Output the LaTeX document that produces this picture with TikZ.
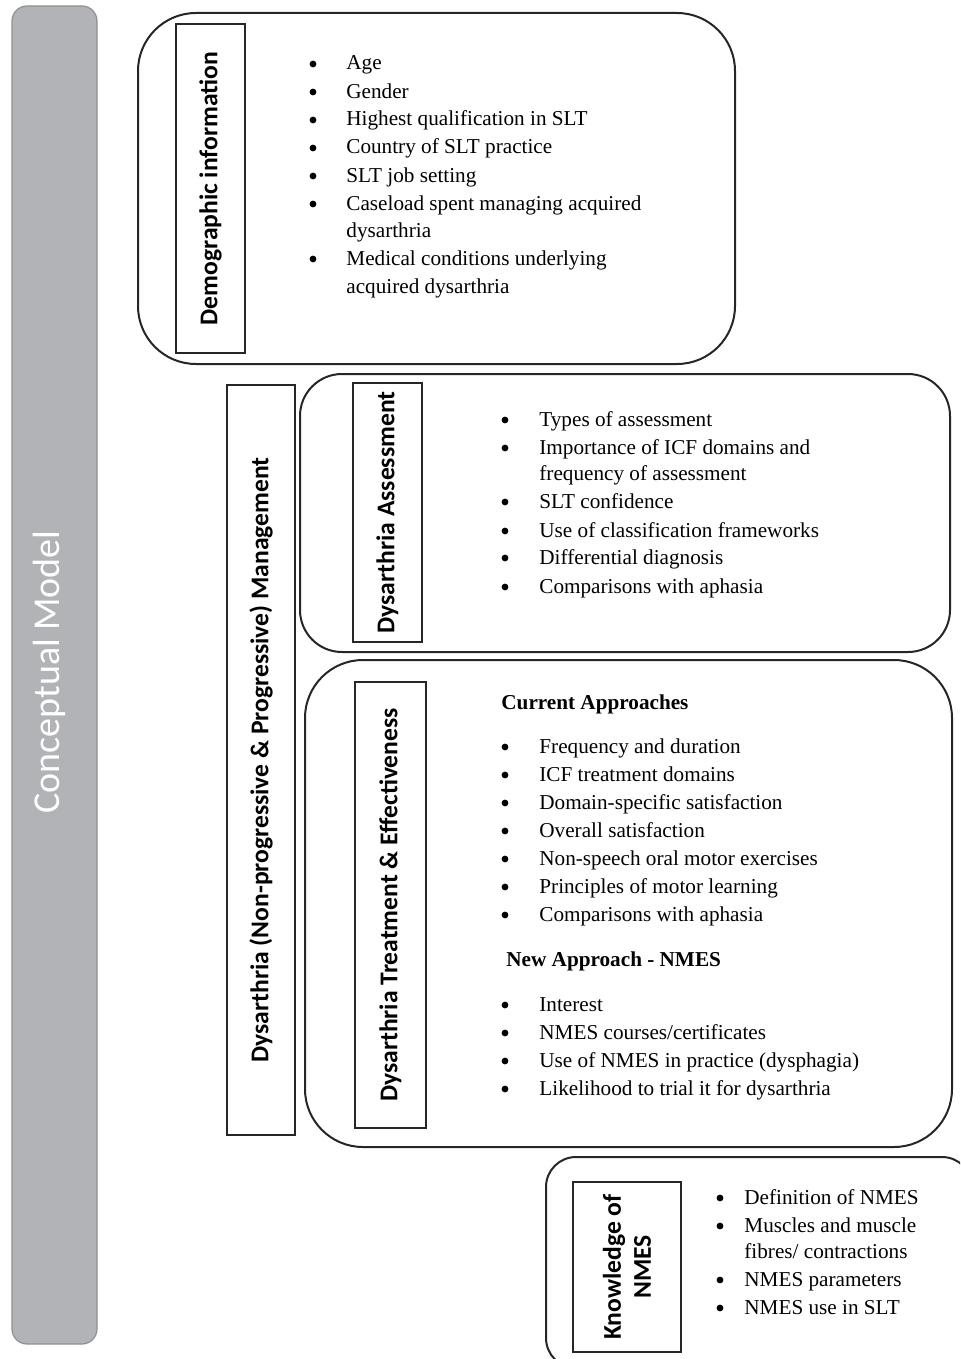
\documentclass[tikz,border=0pt]{standalone}
\usepackage{fontspec}
\setmainfont{Liberation Serif}
\setsansfont{Carlito}
\definecolor{barfill}{HTML}{B2B3B7}
\definecolor{barline}{HTML}{8F9094}
\tikzset{
panel/.style={draw=black!85,line width=1pt},
tagbox/.style={draw=black!85,line width=0.8pt,rotate=90,inner sep=0pt,align=center,
font=\sffamily\bfseries\fontsize{12.8}{15}\selectfont},
itm/.style={anchor=base west,inner sep=0pt,font=\fontsize{10.6}{13}\selectfont},
dot/.style={circle,fill=black,inner sep=0pt,minimum size=3.4pt,yshift=3pt},
head/.style={anchor=base west,inner sep=0pt,font=\bfseries\fontsize{10.6}{13}\selectfont}
}
\begin{document}
\begin{tikzpicture}[x=0.5pt,y=-0.5pt]
\useasboundingbox (0,0) rectangle (960,1359);
\begin{scope}
\clip (0,0) rectangle (960,1359);
% side bar
\draw[fill=barfill,draw=barline,line width=0.6pt,rounded corners=7.5pt] (12,6) rectangle (97,1344);
\node[rotate=90,text=white,inner sep=0pt,font=\sffamily\fontsize{19}{22}\selectfont] (model) at (49,672) {Conceptual Model};
% panels
\draw[panel,rounded corners=29pt] (138,13) rectangle (735,364);
\draw[panel,rounded corners=21pt] (300,374) rectangle (950,652);
\draw[panel,rounded corners=29pt] (305,660) rectangle (952,1147);
\draw[panel,rounded corners=15pt] (546,1157) rectangle (972,1368);
% tags
\node[tagbox,minimum width=164.5pt,minimum height=34.5pt] (demo) at (210.5,188.5) {Demographic information};
\node[tagbox,minimum width=375pt,minimum height=34pt] (mgmt) at (261,760) {Dysarthria (Non-progressive \& Progressive) Management};
\node[tagbox,minimum width=129.5pt,minimum height=34.5pt] (assess) at (387.5,512.5) {Dysarthria Assessment};
\node[tagbox,minimum width=223pt,minimum height=35.5pt] (treat) at (390.5,905) {Dysarthria Treatment \& Effectiveness};
\node[tagbox,minimum width=85pt,minimum height=54pt] (know) at (627,1267) {Knowledge of\\NMES};
\end{scope}
% demographic items
\foreach \y/\t [count=\i] in {70/Age,98/Gender,126/Highest qualification in SLT,154/Country of SLT practice,
182/SLT job setting,210/Caseload spent managing acquired,265/Medical conditions underlying}
{\node[dot] (demob\i) at (313,\y) {}; \node[itm] (demot\i) at (346,\y) {\t};}
\node[itm] (democ1) at (346,237) {dysarthria};
\node[itm] (democ2) at (346,293) {acquired dysarthria};
% assessment items
\foreach \y/\t [count=\i] in {426/Types of assessment,454/Importance of ICF domains and,508/SLT confidence,
537/Use of classification frameworks,564/Differential diagnosis,593/Comparisons with aphasia}
{\node[dot] (assb\i) at (505,\y) {}; \node[itm] (asst\i) at (539,\y) {\t};}
\node[itm] (assc1) at (539,480) {frequency of assessment};
% treatment items
\node[head] (curr) at (501,709) {Current Approaches};
\foreach \y/\t [count=\i] in {753/Frequency and duration,781/ICF treatment domains,809/Domain-specific satisfaction,
837/Overall satisfaction,865/Non-speech oral motor exercises,893/Principles of motor learning,921/Comparisons with aphasia}
{\node[dot] (curb\i) at (505,\y) {}; \node[itm] (curt\i) at (539,\y) {\t};}
\node[head] (new) at (506,966) {New Approach - NMES};
\foreach \y/\t [count=\i] in {1011/Interest,1039/{NMES courses/certificates},1067/Use of NMES in practice (dysphagia),
1095/Likelihood to trial it for dysarthria}
{\node[dot] (newb\i) at (505,\y) {}; \node[itm] (newt\i) at (539,\y) {\t};}
% knowledge items
\foreach \y/\t [count=\i] in {1204/Definition of NMES,1232/Muscles and muscle,1286/NMES parameters,1314/NMES use in SLT}
{\node[dot] (knob\i) at (720,\y) {}; \node[itm] (knot\i) at (744,\y) {\t};}
\node[itm] (knoc1) at (744,1258) {fibres/ contractions};
\end{tikzpicture}
\end{document}
